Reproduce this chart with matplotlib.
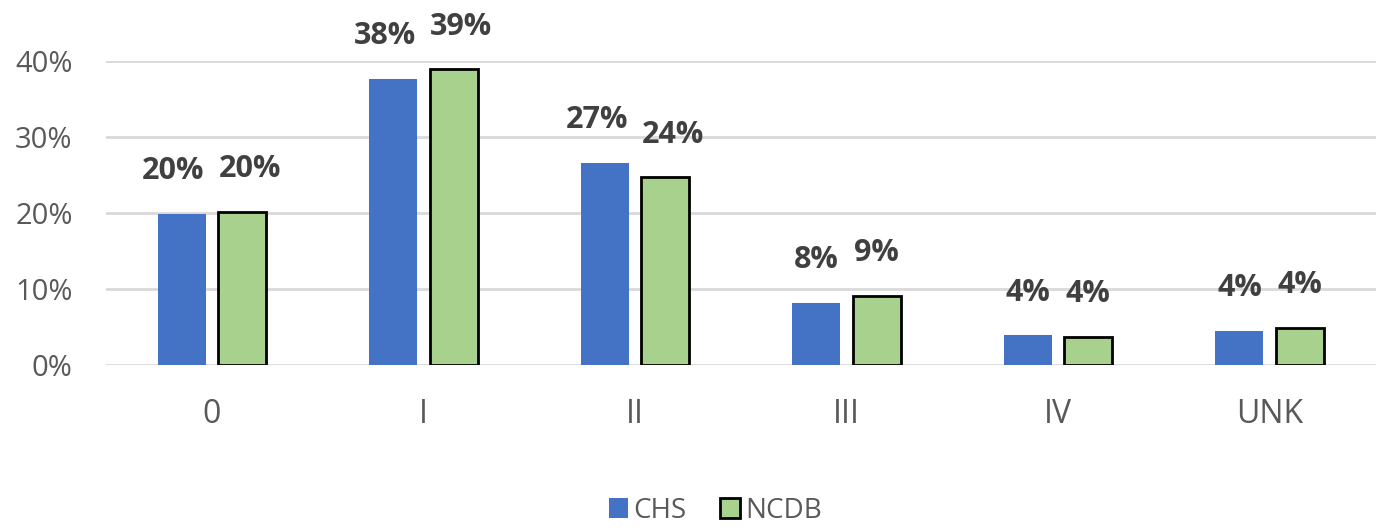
import numpy as np
import matplotlib.pyplot as plt

# --- Data ---
stages = ['0', 'I', 'II', 'III', 'IV', 'UNK']
chs = [0.199, 0.376, 0.266, 0.082, 0.039, 0.045]
ncdb = [0.201, 0.389, 0.247, 0.091, 0.037, 0.049]
chs_labels = ['20%', '38%', '27%', '8%', '4%', '4%']
ncdb_labels = ['20%', '39%', '24%', '9%', '4%', '4%']

plt.rcParams['font.family'] = ['Open Sans', 'DejaVu Sans']

fig = plt.figure(figsize=(13.89, 5.31), dpi=100)
ax = fig.add_axes([0.0763, 0.3126, 0.914, 0.5725])

x = np.arange(len(stages))
w = 0.227
off = 0.143

b1 = ax.bar(x - off, chs, w, color='#4472C4', label='CHS', zorder=3)
b2 = ax.bar(x + off, ncdb, w, color='#A9D18E', edgecolor='black', linewidth=2,
            label='NCDB', zorder=3)

# --- Value labels ---
anns = []
for bars, labels in [(b1, chs_labels), (b2, ncdb_labels)]:
    row = []
    for bar, lab in zip(bars, labels):
        a = ax.annotate(lab, (bar.get_x() + bar.get_width() / 2, bar.get_height()),
                        xytext=(0, 20), textcoords='offset points',
                        ha='center', va='bottom', fontsize=22, fontweight='bold',
                        color='#404040')
        row.append(a)
    anns.append(row)

ax.set_xlim(-0.5, len(stages) - 0.5)
ax.set_ylim(0, 0.40)
ax.set_yticks([0, 0.1, 0.2, 0.3, 0.4])
ax.set_yticklabels(['0%', '10%', '20%', '30%', '40%'])
ax.set_xticks(x)
ax.set_xticklabels(stages)
ax.tick_params(axis='y', labelsize=21, colors='#595959', length=0, pad=24)
ax.tick_params(axis='x', labelsize=23, colors='#595959', length=0, pad=24)
ax.grid(axis='y', color='#D9D9D9', linewidth=2, zorder=0)
for s in ax.spines.values():
    s.set_visible(False)

# push apart labels that collide (like Excel does)
fig.canvas.draw()
r = fig.canvas.get_renderer()
for a1, a2 in zip(anns[0], anns[1]):
    e1 = a1.get_window_extent(r)
    e2 = a2.get_window_extent(r)
    vert = min(e1.y1, e2.y1) - max(e1.y0, e2.y0)
    overlap = e1.x1 + 14 - e2.x0
    if vert > 0 and overlap > 0:
        d = overlap / 2 * 72 / fig.dpi
        a1.xyann = (-d, 20)
        a2.xyann = (d, 20)

leg = fig.legend(loc='lower center', ncol=2, frameon=False, fontsize=20,
                 bbox_to_anchor=(0.515, -0.035), handlelength=0.7, handleheight=0.7,
                 handletextpad=0.2, columnspacing=1.2)
for t in leg.get_texts():
    t.set_color('#595959')

fig.savefig('out.png', dpi=100)
